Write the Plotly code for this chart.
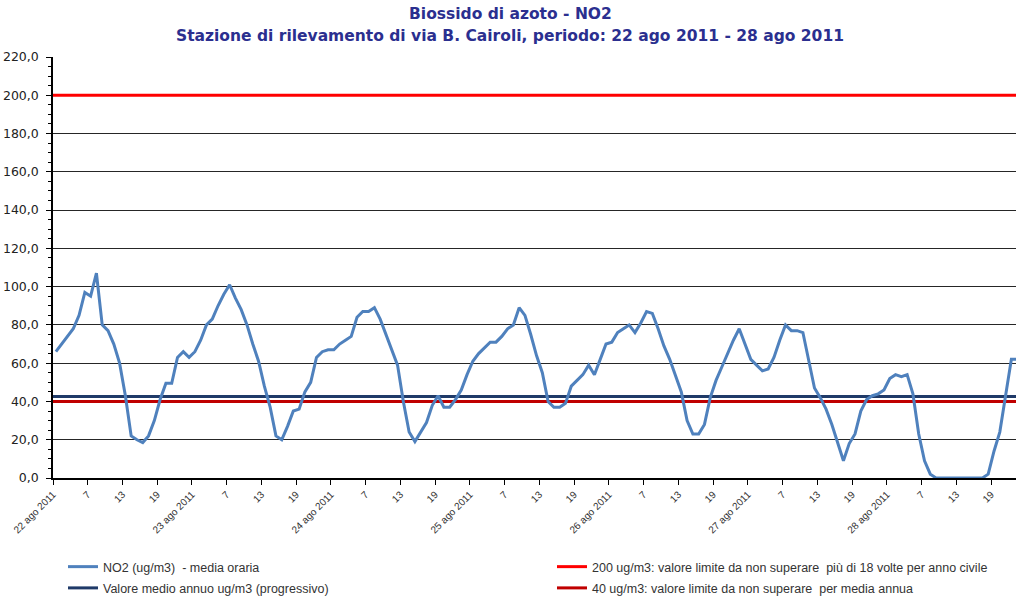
import plotly.graph_objects as go

# ---------------- data ----------------
days = ["22 ago 2011", "23 ago 2011", "24 ago 2011", "25 ago 2011",
        "26 ago 2011", "27 ago 2011", "28 ago 2011"]
hour_labels = ["7", "13", "19"]

no2_day1 = [66, 70, 74, 78, 85, 97, 95, 107, 80, 77, 70, 60,
            43, 22, 20, 18.5, 22, 30, 41, 49.5, 49.5, 63, 66, 63]
no2_day2 = [66, 72, 80, 83, 90, 96, 101, 94, 88, 80, 70, 61,
            48, 37, 22, 20, 27, 35, 36, 45, 50, 63, 66, 67]
no2_day3 = [67, 70, 72, 74, 84, 87, 87, 89, 83, 75, 66, 59,
            40, 24, 19, 24, 29, 38, 43, 37, 37, 41, 46, 54]
no2_day4 = [61, 65, 68, 71, 71, 74, 78, 80, 89, 85, 75, 64,
            55, 40, 37, 37, 39, 48, 51, 54, 59, 54, 62, 70]
no2_day5 = [71, 76, 78, 80, 76, 81, 87, 86, 78, 69, 62, 53,
            45, 30, 23, 23, 28, 42, 51, 58, 65, 72, 78, 70]
no2_day6 = [62, 59, 56, 57, 63, 72, 80, 77, 77, 76, 62, 47,
            42, 36, 28, 19, 9, 18, 23, 35, 41, 43, 44, 46]
no2_day7 = [52, 54, 53, 54, 44, 23, 9, 2, 0, 0, 0, 0,
            0, 0, 0, 0, 0, 2, 14, 24, 42, 62, 62, 62]

valore_medio_annuo = 42.6
limite_orario = 200
limite_annuo = 40

title_lines = ["Biossido di azoto - NO2",
               "Stazione di rilevamento di via B. Cairoli, periodo: 22 ago 2011 - 28 ago 2011"]

series_names = ["NO2 (ug/m3)  - media oraria",
                "Valore medio annuo ug/m3 (progressivo)",
                "200 ug/m3: valore limite da non superare  più di 18 volte per anno civile",
                "40 ug/m3: valore limite da non superare  per media annua"]

# ---------------- build ----------------
no2 = no2_day1 + no2_day2 + no2_day3 + no2_day4 + no2_day5 + no2_day6 + no2_day7
n = len(no2)
# each hourly value sits in the middle of its category slot
x_pos = [h + 0.5 for h in range(n)]
tick_text = []
for d in days:
    tick_text += [d] + hour_labels
tick_vals = [i * 6 for i in range(len(tick_text))]
x_ends = [0, n]

fig = go.Figure()
fig.add_trace(go.Scatter(x=x_ends, y=[limite_orario] * 2, mode="lines",
                         line=dict(color="#FF0000", width=3), legendgroup="c",
                         name=series_names[2], legend="legend2", legendrank=1))
fig.add_trace(go.Scatter(x=x_ends, y=[limite_annuo] * 2, mode="lines",
                         line=dict(color="#C00000", width=3), legendgroup="d",
                         name=series_names[3], legend="legend2", legendrank=2))
fig.add_trace(go.Scatter(x=x_ends, y=[valore_medio_annuo] * 2, mode="lines",
                         line=dict(color="#1F3A68", width=3), legendgroup="b",
                         name=series_names[1], legend="legend", legendrank=2))
fig.add_trace(go.Scatter(x=x_pos, y=no2, mode="lines",
                         line=dict(color="#4F81BD", width=3), legendgroup="a",
                         name=series_names[0], legend="legend", legendrank=1))

legend_common = dict(orientation="v", xanchor="left", yanchor="top",
                     xref="container", yref="container",
                     font=dict(family="Liberation Sans", size=12.5, color="#333333"),
                     bgcolor="rgba(0,0,0,0)", tracegroupgap=2, itemwidth=30)

title_font = dict(family="DejaVu Sans", size=15.5, color="#2B2F8F")

fig.update_layout(
    width=1016, height=598,
    margin=dict(l=53, r=0, t=57, b=120, autoexpand=False),
    paper_bgcolor="white", plot_bgcolor="white",
    separators=",.",
    xaxis=dict(
        range=[0, 166.3], tickmode="array", tickvals=tick_vals, ticktext=tick_text,
        tickangle=-45, ticks="outside", ticklen=5, tickcolor="#000",
        showline=True, linecolor="#000", linewidth=1.5,
        showgrid=False, zeroline=False, automargin=False,
        tickfont=dict(family="Liberation Sans", size=10, color="#333333"),
    ),
    yaxis=dict(
        range=[0, 220], dtick=20, tickformat=".1f",
        ticks="outside", ticklen=5, tickcolor="#000",
        showline=True, linecolor="#000", linewidth=1.5,
        showgrid=True, gridcolor="#262626", gridwidth=1.3,
        zeroline=False, automargin=False, ticklabelstandoff=5,
        minor=dict(dtick=5, ticks="outside", ticklen=3, tickcolor="#000", showgrid=False),
        tickfont=dict(family="DejaVu Sans", size=12.5, color="#222222"),
    ),
    legend=dict(x=0.062, y=0.0769, **legend_common),
    legend2=dict(x=0.5433, y=0.0769, **legend_common),
    annotations=[
        dict(text="<b>" + title_lines[0] + "</b>", x=0.4746, y=1.1021,
             xref="paper", yref="paper", xanchor="center", yanchor="middle",
             showarrow=False, font=title_font),
        dict(text="<b>" + title_lines[1] + "</b>", x=0.4746, y=1.0499,
             xref="paper", yref="paper", xanchor="center", yanchor="middle",
             showarrow=False, font=title_font),
    ],
)

fig.write_html("out.html", config={"displayModeBar": False},
               post_script="document.body.style.margin='0';document.body.style.overflow='hidden';")
